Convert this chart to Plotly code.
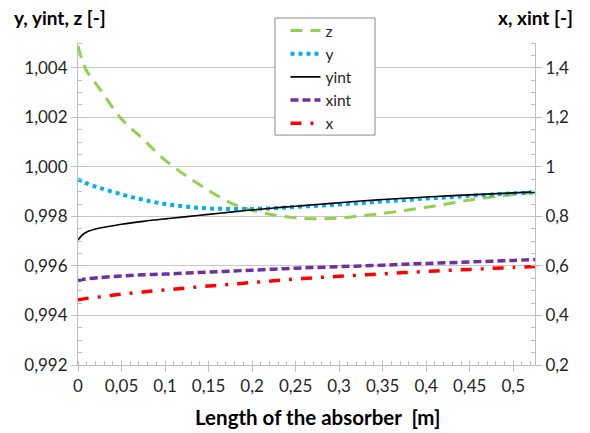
import plotly.graph_objects as go

length_m = [0, 0.005, 0.01, 0.025, 0.05, 0.075, 0.1, 0.125, 0.15, 0.175, 0.2, 0.225,
            0.25, 0.275, 0.3, 0.325, 0.35, 0.375, 0.4, 0.425, 0.45, 0.475, 0.5, 0.525]

z_vals = [1.00488, 1.00428, 1.00387, 1.00315, 1.00193, 1.00111, 1.00027, 0.99962, 0.99905,
          0.99855, 0.99825, 0.99806, 0.99794, 0.99790, 0.99793, 0.99802, 0.99812, 0.99824,
          0.99837, 0.99851, 0.99866, 0.99878, 0.99888, 0.99897]

y_vals = [0.99950, 0.99941, 0.99933, 0.99915, 0.99889, 0.99867, 0.99850, 0.99839, 0.99832,
          0.99830, 0.99830, 0.99833, 0.99838, 0.99843, 0.99848, 0.99854, 0.99860, 0.99866,
          0.99872, 0.99877, 0.99883, 0.99888, 0.99893, 0.99897]

yint_vals = [0.99705, 0.99725, 0.99737, 0.99753, 0.99768, 0.99780, 0.99790, 0.99799, 0.99808,
             0.99817, 0.99826, 0.99834, 0.99841, 0.99848, 0.99855, 0.99862, 0.99868, 0.99873,
             0.99878, 0.99883, 0.99887, 0.99891, 0.99895, 0.99899]

xint_vals = [0.541, 0.545, 0.548, 0.553, 0.559, 0.564, 0.567, 0.571, 0.575, 0.579, 0.583, 0.587,
             0.591, 0.594, 0.597, 0.600, 0.603, 0.607, 0.610, 0.613, 0.616, 0.619, 0.622, 0.626]

x_vals = [0.463, 0.466, 0.469, 0.475, 0.486, 0.495, 0.503, 0.511, 0.519, 0.526, 0.533, 0.540,
          0.547, 0.553, 0.558, 0.563, 0.568, 0.573, 0.578, 0.582, 0.586, 0.590, 0.594, 0.598]

FONT = "Lato"
AXIS_COL = "#bfbfbf"
TXT = "#262626"

fig = go.Figure()
fig.add_trace(go.Scatter(x=length_m, y=z_vals, name="z", mode="lines", line_shape="spline",
                         line=dict(color="#92D050", width=3, dash="12px,8px")))
fig.add_trace(go.Scatter(x=length_m, y=y_vals, name="y", mode="lines", line_shape="spline",
                         line=dict(color="#00B0F0", width=4, dash="4px,4px")))
fig.add_trace(go.Scatter(x=length_m, y=yint_vals, name="yint", mode="lines", line_shape="spline",
                         line=dict(color="#000000", width=1.6)))
fig.add_trace(go.Scatter(x=length_m, y=xint_vals, name="xint", mode="lines", line_shape="spline",
                         yaxis="y2", line=dict(color="#7030A0", width=3.5, dash="8px,4px")))
fig.add_trace(go.Scatter(x=length_m, y=x_vals, name="x", mode="lines", line_shape="spline",
                         yaxis="y2", line=dict(color="#FF0000", width=3.5, dash="11px,9px,3px,9px")))

fig.update_layout(
    width=590, height=433,
    margin=dict(l=78, r=55, t=43, b=68),
    paper_bgcolor="white", plot_bgcolor="white",
    separators=", ",
    font=dict(family=FONT, size=17, color=TXT),
    showlegend=True,
    legend=dict(x=0.454, y=1.090, xanchor="left", yanchor="top",
                bgcolor="rgba(0,0,0,0)", borderwidth=0,
                font=dict(family=FONT, size=15.5, color=TXT), itemwidth=30,
                tracegroupgap=0),
    xaxis=dict(range=[0, 0.525], tick0=0, dtick=0.05, showgrid=False, zeroline=False,
               showline=True, linecolor=AXIS_COL, linewidth=1,
               ticks="outside", ticklen=6, tickcolor=AXIS_COL,
               minor=dict(dtick=0.01, ticks="inside", ticklen=4, tickcolor=AXIS_COL, showgrid=False),
               tickfont=dict(family=FONT, size=17, color=TXT)),
    yaxis=dict(range=[0.992, 1.005], tick0=0.992, dtick=0.002, tickformat=".3f",
               showgrid=True, gridcolor="#c8c8c8", gridwidth=1, zeroline=False,
               showline=True, linecolor=AXIS_COL, linewidth=1,
               ticks="outside", ticklen=6, tickcolor=AXIS_COL,
               minor=dict(dtick=0.0005, ticks="inside", ticklen=4, tickcolor=AXIS_COL, showgrid=False),
               tickfont=dict(family=FONT, size=17, color=TXT)),
    yaxis2=dict(range=[0.2, 1.5], tick0=0.2, dtick=0.2, overlaying="y", side="right",
                showgrid=False, zeroline=False,
                showline=True, linecolor=AXIS_COL, linewidth=1,
                ticks="outside", ticklen=6, tickcolor=AXIS_COL,
                minor=dict(dtick=0.05, ticks="inside", ticklen=4, tickcolor=AXIS_COL, showgrid=False),
                tickfont=dict(family=FONT, size=17, color=TXT)),
    shapes=[
        dict(type="rect", xref="paper", yref="paper", x0=0.431, x1=0.650, y0=0.714, y1=1.0776,
             fillcolor="white", line=dict(color="#8c8c8c", width=1), layer="above"),
    ],
    annotations=[
        dict(text="<b>y, yint, z [-]</b>", xref="paper", yref="paper", x=-0.145, y=1.078,
             xanchor="left", yanchor="middle", showarrow=False,
             font=dict(family=FONT, size=19, color="#000000")),
        dict(text="<b>x, xint [-]</b>", xref="paper", yref="paper", x=1.0875, y=1.078,
             xanchor="right", yanchor="middle", showarrow=False,
             font=dict(family=FONT, size=19, color="#000000")),
        dict(text="<b>Length of the absorber\u00a0 [m]</b>", xref="paper", yref="paper", x=0.525, y=-0.162,
             xanchor="center", yanchor="middle", showarrow=False,
             font=dict(family=FONT, size=20.5, color="#000000")),
    ],
)

fig.write_html("out.html")
